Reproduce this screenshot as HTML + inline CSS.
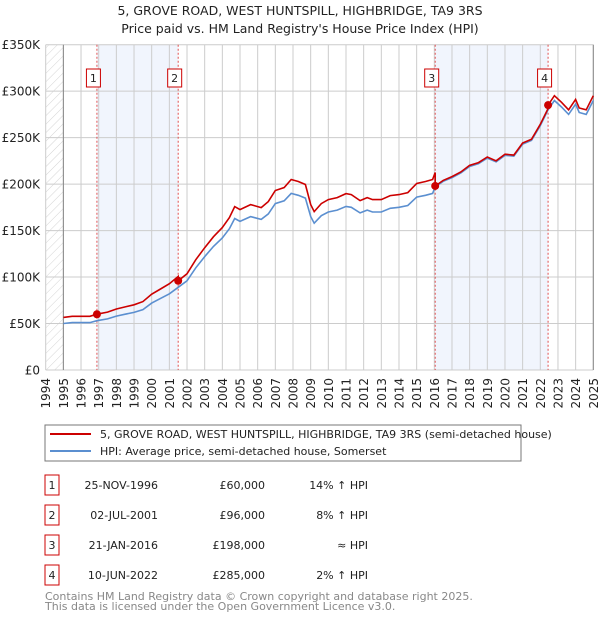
<!DOCTYPE html>
<html><head><meta charset="utf-8"><style>
body{margin:0;background:#fff;font-family:"Liberation Sans","DejaVu Sans",sans-serif;}
svg text{font-family:"DejaVu Sans","Liberation Sans",sans-serif;}
</style></head><body>
<svg id="chart" width="600" height="620" viewBox="0 0 600 620" xmlns="http://www.w3.org/2000/svg">
<defs><pattern id="hatch" width="6" height="6" patternUnits="userSpaceOnUse" patternTransform="rotate(45)"><line x1="0" y1="0" x2="0" y2="6" stroke="#d4d4d4" stroke-width="1"/></pattern></defs>
<text x="300" y="15" text-anchor="middle" font-size="12.5" fill="#222">5, GROVE ROAD, WEST HUNTSPILL, HIGHBRIDGE, TA9 3RS</text>
<text x="300" y="33" text-anchor="middle" font-size="12.5" fill="#222">Price paid vs. HM Land Registry's House Price Index (HPI)</text>
<g id="plot"></g>
<rect x="45" y="425" width="476" height="36" fill="#fff" stroke="#777"/>
<line x1="50" y1="434" x2="91" y2="434" stroke="#cc0000" stroke-width="2"/>
<text x="100" y="438" font-size="11" fill="#222">5, GROVE ROAD, WEST HUNTSPILL, HIGHBRIDGE, TA9 3RS (semi-detached house)</text>
<line x1="50" y1="451" x2="91" y2="451" stroke="#5b8fd0" stroke-width="2"/>
<text x="100" y="455" font-size="11" fill="#222">HPI: Average price, semi-detached house, Somerset</text>
<g id="table" font-size="11" fill="#222"></g>
<text x="45" y="600" font-size="11" fill="#888">Contains HM Land Registry data © Crown copyright and database right 2025.</text>
<text x="45" y="610" font-size="11" fill="#888">This data is licensed under the Open Government Licence v3.0.</text>
</svg>
<script>
const hpiYears=[1995,1995.5,1996,1996.5,1996.9,1997.5,1998,1998.5,1999,1999.5,2000,2000.5,2001,2001.5,2002,2002.5,2003,2003.5,2004,2004.4,2004.7,2005,2005.6,2006.2,2006.6,2007,2007.5,2007.9,2008.3,2008.7,2009,2009.2,2009.6,2010,2010.5,2011,2011.3,2011.8,2012.2,2012.5,2013,2013.5,2014,2014.5,2015,2015.5,2015.9,2016.05,2016.5,2017,2017.5,2018,2018.5,2019,2019.5,2020,2020.5,2021,2021.5,2022,2022.44,2022.8,2023.2,2023.6,2024,2024.2,2024.6,2025];
const hpiValues=[50,51,51,51,53,55,58,60,62,65,72,77,82,89,96,110,122,133,142,152,163,160,165,162,168,179,182,190,188,185,165,158,166,170,172,176,175,169,172,170,170,174,175,177,186,188,190,197,203,207,212,219,222,228,224,231,230,243,247,263,280,290,283,275,286,277,275,290];
const saleLabels=["1","2","3","4"];
const saleYears=[1996.9,2001.5,2016.05,2022.44];
const salePrices=[60,96,198,285];
const saleDates=["25-NOV-1996","02-JUL-2001","21-JAN-2016","10-JUN-2022"];
const salePriceText=["£60,000","£96,000","£198,000","£285,000"];
const saleHpiText=["14% ↑ HPI","8% ↑ HPI","≈ HPI","2% ↑ HPI"];
const yTicks=[0,50,100,150,200,250,300,350];
const yTickLabels=["£0","£50K","£100K","£150K","£200K","£250K","£300K","£350K"];
const xTicks=[1994,1995,1996,1997,1998,1999,2000,2001,2002,2003,2004,2005,2006,2007,2008,2009,2010,2011,2012,2013,2014,2015,2016,2017,2018,2019,2020,2021,2022,2023,2024,2025];

const X0=45.7,X1=593.3,Y0=370,Y1=44.7;
const xs=y=>X0+(y-1994)*(X1-X0)/31;
const ys=v=>Y0-v*(Y0-Y1)/350;
const NS="http://www.w3.org/2000/svg";
const plot=document.getElementById('plot');
function mk(tag,attrs,parent){const e=document.createElementNS(NS,tag);for(const k in attrs)e.setAttribute(k,attrs[k]);(parent||plot).appendChild(e);return e;}
function hpiAt(t){for(let i=1;i<hpiYears.length;i++){if(t<=hpiYears[i]){const a=hpiYears[i-1],b=hpiYears[i];return hpiValues[i-1]+(hpiValues[i]-hpiValues[i-1])*(t-a)/(b-a);}}return hpiValues[hpiValues.length-1];}

let e=mk('rect',{x:X0,y:Y1,width:xs(1995)-X0,height:Y0-Y1,fill:'url(#hatch)'});


e=mk('rect',{x:xs(saleYears[0]),y:Y1,width:xs(saleYears[1])-xs(saleYears[0]),height:Y0-Y1,fill:'#eef3fc',opacity:0.8});


e=mk('rect',{x:xs(saleYears[2]),y:Y1,width:xs(saleYears[3])-xs(saleYears[2]),height:Y0-Y1,fill:'#eef3fc',opacity:0.8});



yTicks.forEach((v,i)=>{
 const l=mk('line',{x1:X0,x2:X1,y1:ys(v),y2:ys(v),stroke:'#ccc','stroke-width':1});
 
 
 const t=mk('text',{x:40,y:ys(v)+4.5,'text-anchor':'end','font-size':12,fill:'#222'});
 t.textContent=yTickLabels[i];
 
 
});
xTicks.forEach(yr=>{
 const l=mk('line',{x1:xs(yr),x2:xs(yr),y1:Y1,y2:Y0,stroke:'#ccc','stroke-width':1});
 
 
 const t=mk('text',{x:0,y:0,'text-anchor':'end','font-size':12,fill:'#222',transform:`translate(${xs(yr)+4.5},378) rotate(-90)`});
 t.textContent=String(yr);
 
 
});
e=mk('line',{x1:xs(1995),x2:xs(1995),y1:Y1,y2:Y0,stroke:'#888'});


e=mk('line',{x1:X1,x2:X1,y1:Y1,y2:Y0,stroke:'#888'});



saleYears.forEach((sy,i)=>{
 const l=mk('line',{x1:xs(sy),x2:xs(sy),y1:Y1,y2:Y0,stroke:'#e05050','stroke-width':1,'stroke-dasharray':'2,2'});
 
 
});

const pts=hpiYears.map((y,i)=>xs(y).toFixed(1)+','+ys(hpiValues[i]).toFixed(1)).join(' ');
e=mk('polyline',{points:pts,fill:'none',stroke:'#5b8fd0','stroke-width':1.6});



const factors=saleYears.map((sy,i)=>salePrices[i]/hpiAt(sy));
function factorAt(t){let f=factors[0];saleYears.forEach((sy,i)=>{if(t>=sy)f=factors[i];});return f;}
const allT=[...hpiYears];
saleYears.forEach(sy=>{allT.push(sy-0.001);allT.push(sy);});
allT.sort((a,b)=>a-b);
const rpts=allT.map(t=>xs(t).toFixed(1)+','+ys(hpiAt(t)*factorAt(t)).toFixed(1)).join(' ');
e=mk('polyline',{points:rpts,fill:'none',stroke:'#cc0000','stroke-width':1.6});



saleYears.forEach((sy,i)=>{
 const c=mk('circle',{cx:xs(sy),cy:ys(salePrices[i]),r:4,fill:'#cc0000'});
 
 
 const bx=xs(sy)-3.5;
 const r=mk('rect',{x:bx-7,y:69,width:14,height:18,fill:'#fff',stroke:'#cc0000'});
 
 
 const t=mk('text',{x:bx,y:82,'text-anchor':'middle','font-size':11,fill:'#222'});
 t.textContent=saleLabels[i];
 
 
});

const tbl=document.getElementById('table');
saleYears.forEach((sy,i)=>{
 const cy=485+i*30;
 const r=mk('rect',{x:45,y:cy-10,width:14,height:20,fill:'#fff',stroke:'#cc0000'},tbl);
 
 
 const cells=[[52,'middle',saleLabels[i],'table-row-number'],[158,'end',saleDates[i],'table-date'],[265,'end',salePriceText[i],'table-price'],[368,'end',saleHpiText[i],'table-hpi-diff']];
 cells.forEach(c=>{
  const t=mk('text',{x:c[0],y:cy+4,'text-anchor':c[1]},tbl);
  t.textContent=c[2];
  
  
 });
});
</script>
</body></html>
